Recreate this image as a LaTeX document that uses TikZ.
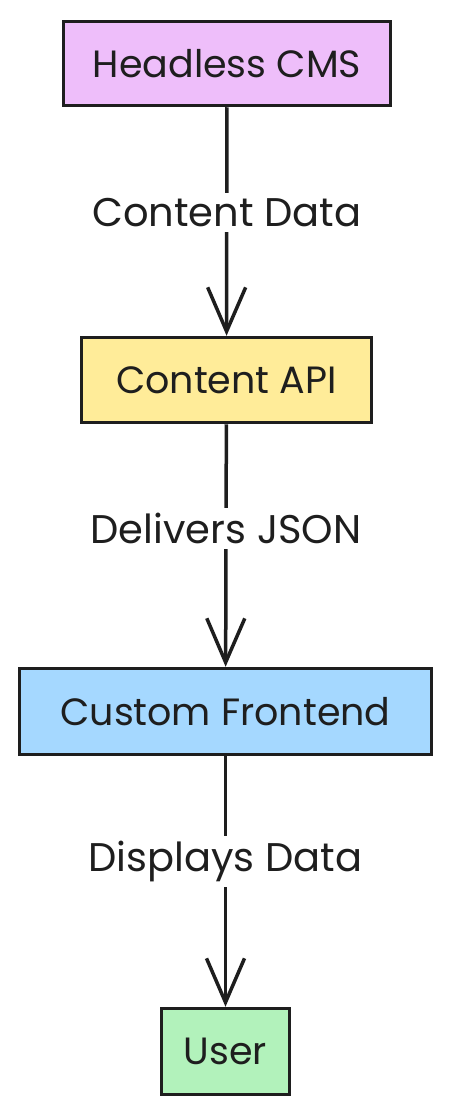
\documentclass[tikz,border=0pt]{standalone}
\usepackage{fontspec}
\setmainfont{Poppins}
\usetikzlibrary{arrows.meta}
\definecolor{inkblack}{HTML}{1E1E1E}
\definecolor{cmspurple}{HTML}{EEBEFA}
\definecolor{apiyellow}{HTML}{FFEC99}
\definecolor{frontblue}{HTML}{A5D8FF}
\definecolor{usergreen}{HTML}{B2F2BB}
\begin{document}
\begin{tikzpicture}[x=1pt,y=-1pt,
  box/.style={draw=inkblack,line width=3.5pt,inner sep=0pt,text=inkblack,
    font=\fontsize{38}{44}\selectfont},
  flow/.style={draw=inkblack,line width=3.5pt,
    -{Straight Barb[length=44pt,width=38pt,line width=3.5pt]}},
  tag/.style={fill=white,inner sep=5pt,text=inkblack,
    font=\fontsize{40}{46}\selectfont}]
  \useasboundingbox (0,0) rectangle (452,1116);
  % boxes
  \node[box,fill=cmspurple,minimum width=327pt,minimum height=84pt] (cms) at (227,63.5) {Headless CMS};
  \node[box,fill=apiyellow,minimum width=290pt,minimum height=85pt] (api) at (226.5,380) {Content API};
  \node[box,fill=frontblue,minimum width=412pt,minimum height=86pt] (front) at (225.5,711.5) {Custom Frontend};
  \node[box,fill=usergreen,minimum width=128pt,minimum height=86pt] (user) at (225.5,1051.5) {User};
  % arrows
  \draw[flow] (cms) -- (api) node[tag,pos=0.46] {Content Data};
  \draw[flow] (api) -- (front) node[tag,pos=0.43] {Delivers JSON};
  \draw[flow] (front) -- (user) node[tag,pos=0.42] {Displays Data};
\end{tikzpicture}
\end{document}
